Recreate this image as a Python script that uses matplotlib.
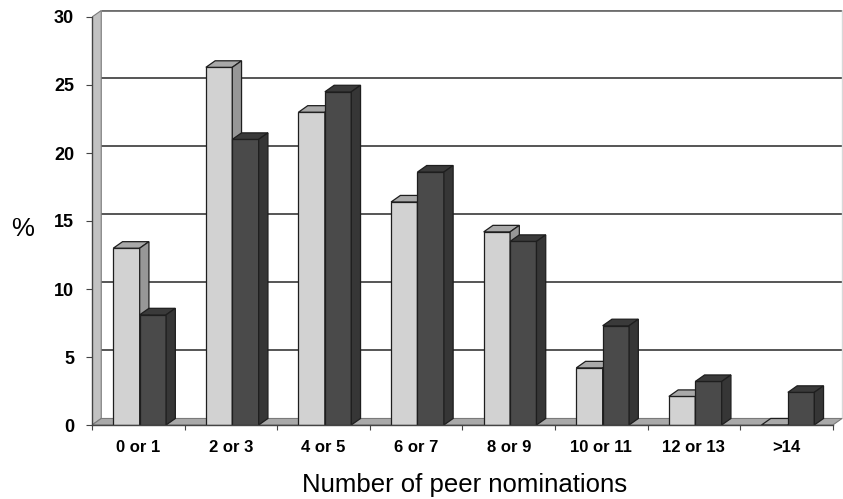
import matplotlib
matplotlib.use("Agg")
import matplotlib.pyplot as plt
from matplotlib.patches import Polygon

categories = ["0 or 1", "2 or 3", "4 or 5", "6 or 7", "8 or 9", "10 or 11", "12 or 13", ">14"]
light_pct = [13.0, 26.3, 23.0, 16.4, 14.2, 4.2, 2.1, 0.0]
dark_pct = [8.1, 21.0, 24.5, 18.6, 13.5, 7.3, 3.2, 2.4]
y_ticks = [0, 5, 10, 15, 20, 25, 30]

plt.rcParams['font.family'] = ['Liberation Sans', 'DejaVu Sans']

W, H = 843, 499
fig = plt.figure(figsize=(W / 100, H / 100), dpi=100)
# axes frame in pixels: left 92, right 842.5, bottom (zero line) 425, top 10
ax = fig.add_axes([92 / W, 1 - 425 / H, (842.5 - 92) / W, (425 - 10) / H])

n = len(categories)
DX, DY = 0.10, 0.48          # depth offset of the 3-D look (data units)
YMAX = y_ticks[-1]
ax.set_xlim(0, 750.5 / 92.6)
ax.set_ylim(0, 415 / 13.6)

EDGE = '#1e1e1e'

# back wall gridlines
for t in y_ticks[1:]:
    ax.plot([DX, n + DX], [t + DY] * 2, color='#555555' if t < YMAX else '#6e6e6e',
            lw=1.4 if t < YMAX else 2.0, zorder=0.5, solid_capstyle='butt')
# right edge of the back wall
ax.plot([n + DX] * 2, [DY, YMAX + DY], color='#d8d8d8', lw=1.0, zorder=0.5)

# left side wall
ax.add_patch(Polygon([(0, 0), (DX, DY), (DX, YMAX + DY), (0, YMAX)],
                     closed=True, fc='#c2c2c2', ec='#7a7a7a', lw=0.8, zorder=1))
# floor
ax.add_patch(Polygon([(0, 0), (n, 0), (n + DX, DY), (DX, DY)],
                     closed=True, fc='#a9a9a9', ec='#7a7a7a', lw=0.8, zorder=1))


def bar3d(x0, w, h, front, top, side, z):
    ax.add_patch(Polygon([(x0, 0), (x0 + w, 0), (x0 + w, h), (x0, h)],
                         closed=True, fc=front, ec=EDGE, lw=0.9, zorder=z))
    ax.add_patch(Polygon([(x0, h), (x0 + w, h), (x0 + w + DX, h + DY), (x0 + DX, h + DY)],
                         closed=True, fc=top, ec=EDGE, lw=0.9, zorder=z))
    ax.add_patch(Polygon([(x0 + w, 0), (x0 + w + DX, DY), (x0 + w + DX, h + DY), (x0 + w, h)],
                         closed=True, fc=side, ec=EDGE, lw=0.9, zorder=z))


BW = 0.285
OFF = 0.230
z = 2.0
for i in range(n):
    bar3d(i + OFF, BW, light_pct[i], '#d2d2d2', '#a9a9a9', '#979797', z)
    z += 0.01
    bar3d(i + OFF + BW, BW, dark_pct[i], '#4a4a4a', '#3a3a3a', '#363636', z)
    z += 0.01

# axes lines and ticks
for s in ('top', 'right'):
    ax.spines[s].set_visible(False)
ax.spines['left'].set_bounds(0, YMAX)
ax.spines['bottom'].set_bounds(0, n)
for s in ('left', 'bottom'):
    ax.spines[s].set_color('#444444')
    ax.spines[s].set_linewidth(1.0)
    ax.spines[s].set_zorder(5)

ax.set_yticks(y_ticks)
ax.set_yticklabels([str(t) for t in y_ticks], fontsize=13, fontweight='bold')
ax.tick_params(axis='y', length=4.3, width=0.8, color='#444444', pad=8.6)

ax.set_xticks([i + 0.5 for i in range(n)])
ax.set_xticklabels(categories, fontsize=12, fontweight='bold')
ax.set_xticks(list(range(n + 1)), minor=True)
ax.tick_params(axis='x', which='major', length=0, pad=11)
ax.tick_params(axis='x', which='minor', length=3.6, width=0.8, color='#444444')

fig.text(465 / W, 1 - 492 / H, 'Number of peer nominations', fontsize=18.5,
         ha='center', va='baseline')
fig.text(23 / W, 1 - 229 / H, '%', fontsize=18.5, ha='center', va='center')

fig.savefig('out.png', dpi=100)
